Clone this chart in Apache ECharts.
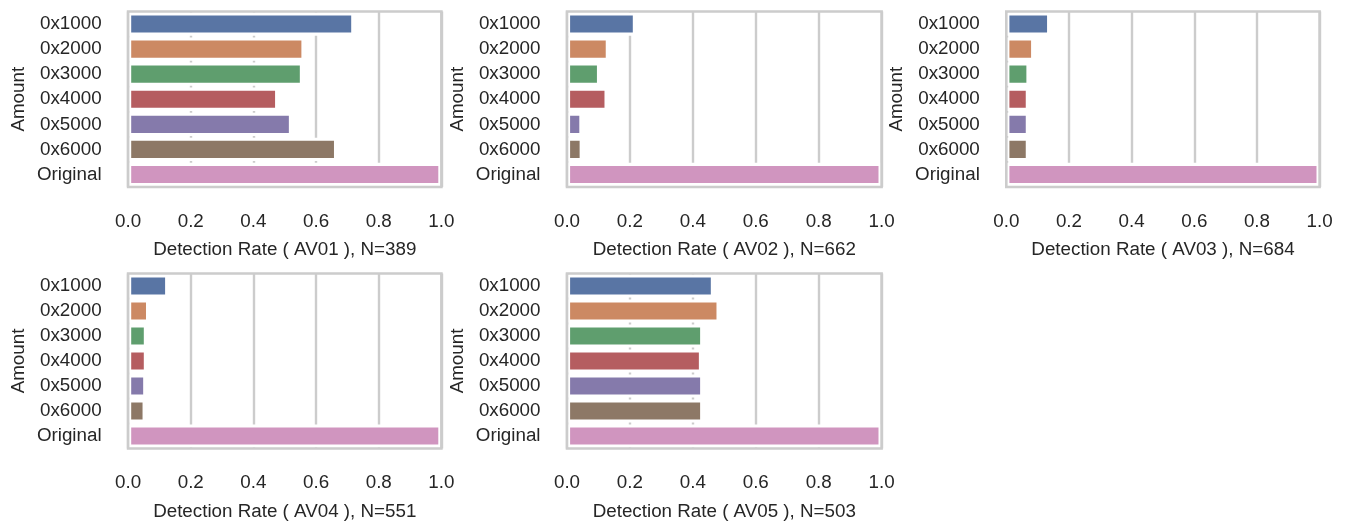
<!DOCTYPE html>
<html>
<head>
<meta charset="utf-8">
<script src="https://cdn.jsdelivr.net/npm/echarts@6/dist/echarts.min.js"></script>
<style>
  html, body { margin: 0; padding: 0; background: #ffffff; }
  #chart { width: 1348px; height: 522px; }
</style>
</head>
<body>
<div id="chart"></div>
<script>
// ---- data ----
const categories = ['0x1000', '0x2000', '0x3000', '0x4000', '0x5000', '0x6000', 'Original'];
const av01 = [0.722, 0.563, 0.558, 0.479, 0.523, 0.667, 1.0];
const av02 = [0.219, 0.133, 0.105, 0.129, 0.049, 0.050, 1.0];
const av03 = [0.140, 0.089, 0.074, 0.072, 0.072, 0.072, 1.0];
const av04 = [0.128, 0.067, 0.060, 0.060, 0.058, 0.056, 1.0];
const av05 = [0.467, 0.485, 0.433, 0.429, 0.433, 0.433, 1.0];
const panelNames = ['AV01', 'AV02', 'AV03', 'AV04', 'AV05'];
const sampleSizes = [389, 662, 684, 551, 503];
const xTickLabels = ['0.0', '0.2', '0.4', '0.6', '0.8', '1.0'];
const yAxisTitle = 'Amount';

// ---- style / layout ----
const palette = ['#5975a4', '#cc8963', '#5f9e6e', '#b55d60', '#857aab', '#8d7866', '#d095bf'];
const panels = [av01, av02, av03, av04, av05];
const colBoxes = [[128.1, 313.3], [567.0, 314.6], [1006.3, 313.3]];
const rowBoxes = [[11.5, 175.5], [273.5, 175]];
const FONT = '"Liberation Sans", Arial, Helvetica, sans-serif';
const TEXT = '#262626';
const GRIDC = '#cccccc';
const FS = 18.8;

const grids = [], xAxes = [], yAxes = [], series = [];
panels.forEach((vals, i) => {
  const col = i % 3, row = Math.floor(i / 3);
  grids.push({
    left: colBoxes[col][0], width: colBoxes[col][1],
    top: rowBoxes[row][0], height: rowBoxes[row][1],
    show: true, z: 10, borderColor: GRIDC, borderWidth: 2.6,
    backgroundColor: 'rgba(0,0,0,0)'
  });
  xAxes.push({
    gridIndex: i, type: 'value', min: 0, max: 1, interval: 0.2,
    name: 'Detection Rate ( ' + panelNames[i] + ' ), N=' + sampleSizes[i],
    nameLocation: 'middle', nameGap: 53.5,
    nameTextStyle: { fontFamily: FONT, fontSize: FS, color: TEXT },
    axisLine: { show: false }, axisTick: { show: false },
    axisLabel: {
      margin: 25, fontFamily: FONT, fontSize: FS, color: TEXT,
      formatter: v => xTickLabels[Math.round(v / 0.2)]
    },
    splitLine: { show: true, lineStyle: { color: GRIDC, width: 2.4 } }
  });
  yAxes.push({
    gridIndex: i, type: 'category', data: categories, inverse: true,
    name: yAxisTitle, nameLocation: 'middle', nameGap: 100,
    nameTextStyle: { fontFamily: FONT, fontSize: FS, color: TEXT },
    axisLine: { show: false }, axisTick: { show: false },
    axisLabel: { margin: 26.5, fontFamily: FONT, fontSize: FS, color: TEXT },
    splitLine: { show: false }
  });
  series.push({
    type: 'bar', xAxisIndex: i, yAxisIndex: i,
    barWidth: '93%',
    data: vals.map((v, k) => ({ value: v, itemStyle: { color: palette[k] } })),
    itemStyle: { borderColor: '#ffffff', borderWidth: 3.1 },
    silent: true, animation: false
  });
});

const chart = echarts.init(document.getElementById('chart'), null, { renderer: 'canvas' });
chart.setOption({
  animation: false,
  backgroundColor: '#ffffff',
  grid: grids, xAxis: xAxes, yAxis: yAxes, series: series
});
</script>
</body>
</html>
